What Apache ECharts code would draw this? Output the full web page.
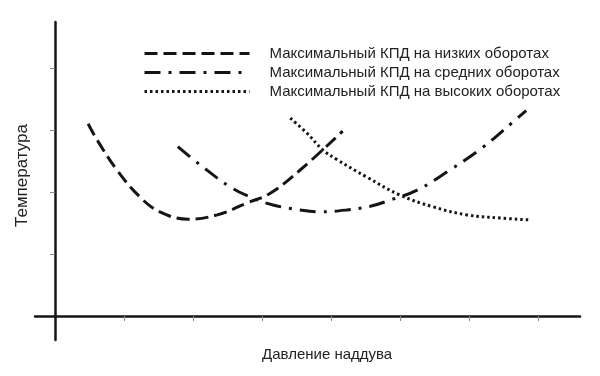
<!DOCTYPE html>
<html>
<head>
<meta charset="utf-8">
<script src="https://cdn.jsdelivr.net/npm/echarts@6/dist/echarts.min.js"></script>
<style>
  html, body { margin: 0; padding: 0; background: #fff; }
  #chart { width: 600px; height: 376px; }
</style>
</head>
<body>
<div id="chart"></div>
<script>
// curves, x in tick units of boost pressure, y in tick units of temperature
const lowRpm = [
  [0.48, 3.10], [0.61, 2.84], [0.90, 2.35], [1.23, 1.92], [1.52, 1.68], [1.93, 1.56],
  [2.35, 1.63], [2.78, 1.82], [3.12, 1.98], [3.55, 2.35], [4.17, 2.98],
]
const midRpm = [
  [1.78, 2.73], [2.10, 2.44], [2.54, 2.08], [2.83, 1.92], [3.16, 1.79], [3.55, 1.71],
  [3.84, 1.68], [4.23, 1.71], [4.57, 1.77], [4.86, 1.87], [5.25, 2.03], [5.72, 2.35],
  [6.19, 2.71], [6.64, 3.13], [6.83, 3.31],
]
const highRpm = [
  [3.41, 3.19], [3.65, 2.95], [3.88, 2.68], [4.09, 2.52], [4.52, 2.24], [5.00, 1.95],
  [5.48, 1.76], [5.97, 1.63], [6.45, 1.58], [6.86, 1.55],
]
const seriesNames = [
  'Максимальный КПД на низких оборотах',
  'Максимальный КПД на средних оборотах',
  'Максимальный КПД на высоких оборотах',
]
const xTicks = [1, 2, 3, 4, 5, 6, 7]
const yTicks = [1, 2, 3, 4]

const font = '"Liberation Sans", Arial, sans-serif'
const ink = '#151515'

const chart = echarts.init(document.getElementById('chart'))
chart.setOption({
  animation: false,
  color: [ink, ink, ink],
  textStyle: { fontFamily: font },
  legend: {
    left: 143,
    top: 44,
    padding: 0,
    orient: 'vertical',
    itemWidth: 105,
    itemHeight: 14,
    itemGap: 0,
    itemStyle: { opacity: 0 },
    lineStyle: { width: 3 },
    textStyle: { fontSize: 15, lineHeight: 19, color: '#222', fontFamily: font, padding: [0, 0, 0, 15] },
    data: seriesNames,
  },
  grid: { left: 35, right: 20, top: 22, bottom: 36 },
  xAxis: {
    type: 'value',
    min: -0.29,
    max: 7.61,
    axisLine: { onZero: true, lineStyle: { color: ink, width: 2.5 } },
    axisTick: { show: true, customValues: xTicks, length: 5, lineStyle: { color: '#888', width: 1 } },
    axisLabel: { show: false },
    splitLine: { show: false },
  },
  yAxis: {
    type: 'value',
    min: -0.387,
    max: 4.74,
    axisLine: { show: true, onZero: true, lineStyle: { color: ink, width: 2.5 } },
    axisTick: { show: true, customValues: yTicks, length: 5, lineStyle: { color: '#888', width: 1 } },
    axisLabel: { show: false },
    splitLine: { show: false },
  },
  graphic: [
    {
      type: 'text',
      left: 262,
      top: 347,
      style: { text: 'Давление наддува', font: '15px ' + font, fill: '#222' },
    },
    {
      type: 'text',
      x: 14,
      y: 227,
      rotation: Math.PI / 2,
      style: { text: 'Температура', font: '17px ' + font, fill: '#222' },
    },
  ],
  series: [
    {
      name: seriesNames[0],
      type: 'line',
      data: lowRpm,
      smooth: 0.4,
      symbol: 'none',
      lineStyle: { color: ink, width: 3, type: [13, 6] },
    },
    {
      name: seriesNames[1],
      type: 'line',
      data: midRpm,
      smooth: 0.4,
      symbol: 'none',
      lineStyle: { color: ink, width: 3, type: [16, 8, 3, 8] },
    },
    {
      name: seriesNames[2],
      type: 'line',
      data: highRpm,
      smooth: 0.4,
      symbol: 'none',
      lineStyle: { color: ink, width: 3, type: [2.5, 3] },
    },
  ],
})
</script>
</body>
</html>
